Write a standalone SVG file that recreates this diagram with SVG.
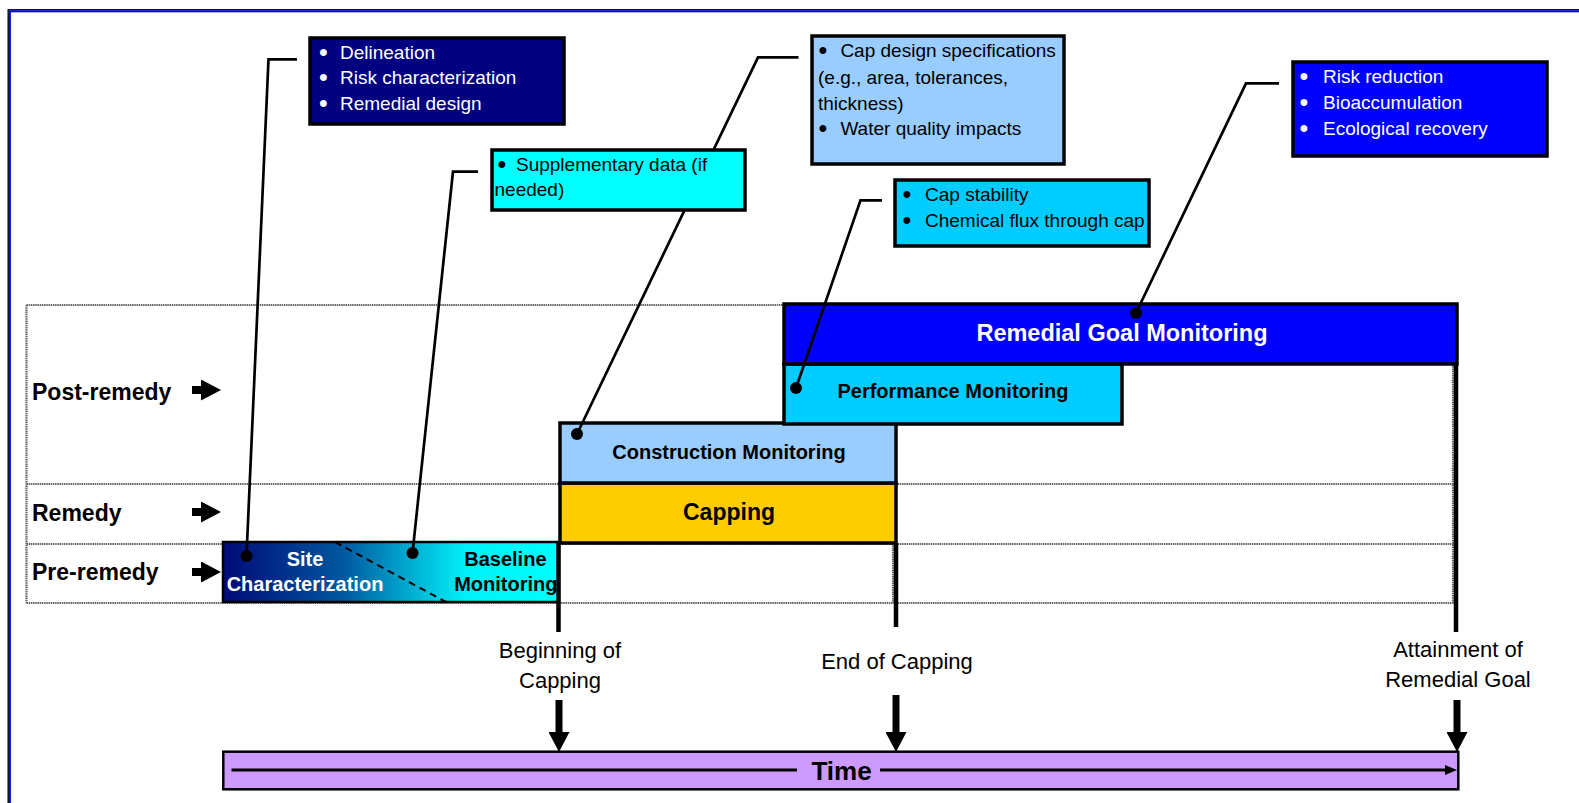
<svg xmlns="http://www.w3.org/2000/svg" width="1579" height="803" viewBox="0 0 1579 803">
<style>
text{font-family:"Liberation Sans",Arial,sans-serif;}
.call{font-size:19px;fill:#000;}
.callw{font-size:19px;fill:#fff;}
.bul{font-size:25px;text-anchor:middle;}
.bar{stroke:#000;stroke-width:3.5;}
.cbox{stroke:#000;stroke-width:3.5;}
.lbl{font-size:23px;font-weight:bold;fill:#000;}
.ms{font-size:22px;fill:#000;text-anchor:middle;}
.b20{font-size:20px;font-weight:bold;}
.grid{stroke:#666;stroke-width:2.2;stroke-dasharray:1.5 0.7;fill:none;}
.lead{stroke:#000;stroke-width:2.7;fill:none;marker-end:url(#dot);}
.vline{stroke:#000;stroke-width:4.5;}
</style>
<defs>
<marker id="dot" markerUnits="userSpaceOnUse" viewBox="-7 -7 14 14" markerWidth="14" markerHeight="14" refX="0" refY="0">
<circle cx="0" cy="0" r="6" fill="#000"/>
</marker>
<marker id="bighead" markerUnits="userSpaceOnUse" viewBox="0 0 20 21" markerWidth="20" markerHeight="21" refX="0" refY="10.5" orient="auto">
<path d="M0,0 L20,10.5 L0,21 Z" fill="#000"/>
</marker>
<marker id="smallhead" markerUnits="userSpaceOnUse" viewBox="0 0 12 10" markerWidth="12" markerHeight="10" refX="0" refY="5" orient="auto">
<path d="M0,0 L12,5 L0,10 Z" fill="#000"/>
</marker>
<linearGradient id="siteGrad" x1="0" y1="0" x2="1" y2="0">
<stop offset="0" stop-color="#000a78"/>
<stop offset="0.35" stop-color="#00569e"/>
<stop offset="0.72" stop-color="#00f0f8"/>
<stop offset="1" stop-color="#00ffff"/>
</linearGradient>
</defs>

<rect width="1579" height="803" fill="#fff"/>
<!-- frame -->
<rect x="8.2" y="9.8" width="1700" height="900" fill="none" stroke="#000" stroke-width="1.4"/>
<rect x="9.9" y="11.3" width="1700" height="900" fill="none" stroke="#0000ff" stroke-width="2"/>

<!-- grid -->
<g id="grid">
<line class="grid" x1="26.5" y1="305" x2="784" y2="305"/>
<line class="grid" x1="26.5" y1="305" x2="26.5" y2="603"/>
<line class="grid" x1="26.5" y1="484" x2="1456" y2="484"/>
<line class="grid" x1="26.5" y1="544" x2="1456" y2="544"/>
<line class="grid" x1="26.5" y1="603" x2="1456" y2="603"/>
<line class="grid" x1="893" y1="543" x2="893" y2="603"/>
<line class="grid" x1="1453" y1="364" x2="1453" y2="603"/>
</g>

<!-- row labels -->
<g id="row-post">
<text class="lbl" x="32" y="400">Post-remedy</text>
<line x1="192" y1="390" x2="201" y2="390" stroke="#000" stroke-width="8" marker-end="url(#bighead)"/>
</g>
<g id="row-remedy">
<text class="lbl" x="32" y="521">Remedy</text>
<line x1="192" y1="512" x2="201" y2="512" stroke="#000" stroke-width="8" marker-end="url(#bighead)"/>
</g>
<g id="row-pre">
<text class="lbl" x="32" y="580">Pre-remedy</text>
<line x1="192" y1="572" x2="201" y2="572" stroke="#000" stroke-width="8" marker-end="url(#bighead)"/>
</g>

<!-- bars -->
<g id="site-baseline">
<rect x="223" y="542" width="336" height="60" fill="url(#siteGrad)" stroke="#000" stroke-width="2.5"/>
<line x1="335" y1="542" x2="446" y2="602" stroke="#000" stroke-width="2" stroke-dasharray="7 5"/>
<text class="b20" x="305" y="566" text-anchor="middle" fill="#fff">Site</text>
<text class="b20" x="305" y="591" text-anchor="middle" fill="#fff">Characterization</text>
<text class="b20" x="546.5" y="566" text-anchor="end" fill="#000">Baseline</text>
<text class="b20" x="557.5" y="591" text-anchor="end" fill="#000">Monitoring</text>
</g>
<g id="capping">
<rect class="bar" x="560" y="483" width="336" height="60" fill="#ffcc00"/>
<text x="729" y="520" text-anchor="middle" font-size="23" font-weight="bold" fill="#000">Capping</text>
</g>
<g id="construction-monitoring">
<rect class="bar" x="560" y="423" width="336" height="60" fill="#99ccff"/>
<text class="b20" x="729" y="459" text-anchor="middle" fill="#000">Construction Monitoring</text>
</g>
<g id="performance-monitoring">
<rect class="bar" x="784" y="364" width="338" height="60" fill="#00ccff"/>
<text class="b20" x="953" y="398" text-anchor="middle" fill="#000">Performance Monitoring</text>
</g>
<g id="remedial-goal-monitoring">
<rect class="bar" x="784" y="304" width="673" height="60" fill="#0000ff"/>
<text x="1122" y="340.5" text-anchor="middle" font-size="23.5" font-weight="bold" fill="#fff">Remedial Goal Monitoring</text>
</g>

<!-- milestone lines -->
<g id="milestones">
<line class="vline" x1="558.5" y1="543" x2="558.5" y2="632"/>
<line class="vline" x1="896" y1="543" x2="896" y2="627"/>
<line class="vline" x1="1456" y1="364" x2="1456" y2="632"/>
</g>

<g id="label-beginning">
<text class="ms" x="560" y="658">Beginning of</text>
<text class="ms" x="560" y="688">Capping</text>
<line x1="559" y1="700" x2="559" y2="732" stroke="#000" stroke-width="7" marker-end="url(#bighead)"/>
</g>
<g id="label-end">
<text class="ms" x="897" y="669">End of Capping</text>
<line x1="896" y1="695" x2="896" y2="732" stroke="#000" stroke-width="7" marker-end="url(#bighead)"/>
</g>
<g id="label-attainment">
<text class="ms" x="1458" y="657">Attainment of</text>
<text class="ms" x="1458" y="687">Remedial Goal</text>
<line x1="1457" y1="700" x2="1457" y2="732" stroke="#000" stroke-width="7" marker-end="url(#bighead)"/>
</g>

<!-- time bar -->
<g id="time">
<rect x="223.3" y="751.7" width="1235" height="37.6" fill="#cc99ff" stroke="#000" stroke-width="2.5"/>
<line x1="231.5" y1="770" x2="797" y2="770" stroke="#000" stroke-width="3"/>
<text x="841.5" y="780" text-anchor="middle" font-size="26" font-weight="bold" fill="#000">Time</text>
<line x1="880" y1="770" x2="1445" y2="770" stroke="#000" stroke-width="3" marker-end="url(#smallhead)"/>
</g>

<!-- connectors -->
<g id="connectors">
<polyline class="lead" points="297,59.3 268.5,59.3 246.5,556"/>
<polyline class="lead" points="478,171.7 453,171.7 412.5,553"/>
<polyline class="lead" points="798.5,57.3 758,57.3 577,434"/>
<polyline class="lead" points="882,200.3 860.5,200.3 796,388"/>
<polyline class="lead" points="1279,83.3 1246,83.3 1136,313"/>
</g>

<!-- callouts -->
<g id="callout-site">
<rect class="cbox" x="310" y="38" width="254" height="86" fill="#000080"/>
<text class="callw bul" x="323.5" y="60.5">•</text>
<text class="callw" x="340" y="58.7">Delineation</text>
<text class="callw bul" x="323.5" y="86">•</text>
<text class="callw" x="340" y="84.3">Risk characterization</text>
<text class="callw bul" x="323.5" y="112">•</text>
<text class="callw" x="340" y="110.3">Remedial design</text>
</g>
<g id="callout-baseline">
<rect class="cbox" x="492" y="150" width="253" height="60" fill="#00ffff"/>
<text class="call bul" x="502" y="172.7">•</text>
<text class="call" x="516" y="171">Supplementary data (if</text>
<text class="call" x="494.5" y="196">needed)</text>
</g>
<g id="callout-construction">
<rect class="cbox" x="812" y="36" width="252" height="128" fill="#99ccff"/>
<text class="call bul" x="823" y="58.7">•</text>
<text class="call" x="840.4" y="57">Cap design specifications</text>
<text class="call" x="818" y="83.7">(e.g., area, tolerances,</text>
<text class="call" x="818" y="109.7">thickness)</text>
<text class="call bul" x="823" y="137">•</text>
<text class="call" x="840.4" y="135.3">Water quality impacts</text>
</g>
<g id="callout-performance">
<rect class="cbox" x="895" y="180" width="254" height="66" fill="#00ccff"/>
<text class="call bul" x="907" y="202.7">•</text>
<text class="call" x="925" y="201">Cap stability</text>
<text class="call bul" x="907" y="228.7">•</text>
<text class="call" x="925" y="227">Chemical flux through cap</text>
</g>
<g id="callout-remedial">
<rect class="cbox" x="1293" y="62" width="254" height="94" fill="#0000ff"/>
<text class="callw bul" x="1304" y="84.7">•</text>
<text class="callw" x="1323" y="83">Risk reduction</text>
<text class="callw bul" x="1304" y="110.7">•</text>
<text class="callw" x="1323" y="109">Bioaccumulation</text>
<text class="callw bul" x="1304" y="137">•</text>
<text class="callw" x="1323" y="135.3">Ecological recovery</text>
</g>
</svg>
